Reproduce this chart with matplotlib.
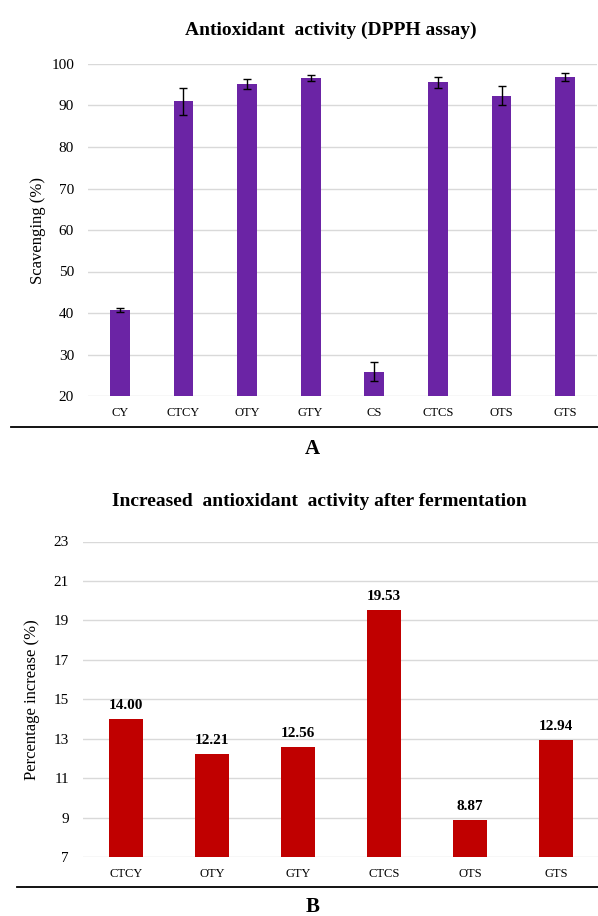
"""
Antioxidant activity (DPPH) and increase after fermentation
"""

# %% Imports
import matplotlib

matplotlib.use("Agg")
import matplotlib.pyplot as plt
from matplotlib.lines import Line2D

# %% Data
groups_a = ["CY", "CTCY", "OTY", "GTY", "CS", "CTCS", "OTS", "GTS"]
scavenging = [40.8, 91.0, 95.2, 96.6, 25.8, 95.6, 92.3, 96.9]
scavenging_err = [0.5, 3.3, 1.3, 0.8, 2.3, 1.3, 2.3, 1.0]

groups_b = ["CTCY", "OTY", "GTY", "CTCS", "OTS", "GTS"]
increase = [14.00, 12.21, 12.56, 19.53, 8.87, 12.94]

# %% Style
plt.rcParams.update(
    {
        "font.family": ["Liberation Serif", "DejaVu Serif"],
        "font.size": 11,
        "xtick.labelsize": 9,
        "ytick.labelsize": 11,
    }
)

W, H = 598, 916
PURPLE = "#6B24A5"
RED = "#C00000"
GRID = "#d9d9d9"


def _style_axis(ax):
    for s in ax.spines.values():
        s.set_visible(False)
    ax.grid(axis="y", color=GRID, lw=1)
    ax.set_axisbelow(True)
    ax.tick_params(axis="both", length=0)
    ax.tick_params(axis="y", pad=10)
    ax.tick_params(axis="x", pad=8)


def _box(x0, y0, x1, y1):
    # pixel box -> figure fraction [left, bottom, width, height]
    return [x0 / W, 1 - y1 / H, (x1 - x0) / W, (y1 - y0) / H]


# %% Figure
fig = plt.figure(figsize=(W / 100, H / 100), dpi=100)

# panel A
ax1 = fig.add_axes(_box(88, 64, 597, 396))
_style_axis(ax1)
ax1.bar(
    range(len(groups_a)),
    scavenging,
    width=0.31,
    color=PURPLE,
    yerr=scavenging_err,
    error_kw={"ecolor": "black", "elinewidth": 1, "capsize": 3, "capthick": 1},
    zorder=3,
)
ax1.set_xticks(range(len(groups_a)))
ax1.set_xticklabels(groups_a)
ax1.set_xlim(-0.5, len(groups_a) - 0.5)
ax1.set_ylim(20, 100)
ax1.set_yticks(range(20, 101, 10))
ax1.set_ylabel("Scavenging (%)", fontsize=12)
ax1.yaxis.set_label_coords(-0.083, 0.5)
fig.text(331 / W, 1 - 30 / H, "Antioxidant  activity (DPPH assay)", ha="center", va="center",
         fontsize=14, fontweight="bold")

# panel B
ax2 = fig.add_axes(_box(83, 541.5, 599, 857))
_style_axis(ax2)
bars = ax2.bar(range(len(groups_b)), increase, width=0.40, color=RED, zorder=3)
for b, v in zip(bars, increase):
    ax2.annotate(f"{v:.2f}", (b.get_x() + b.get_width() / 2, v), xytext=(0, 5),
                 textcoords="offset points", ha="center", va="bottom",
                 fontsize=11, fontweight="bold")
ax2.set_xticks(range(len(groups_b)))
ax2.set_xticklabels(groups_b)
ax2.set_xlim(-0.5, len(groups_b) - 0.5)
ax2.set_ylim(7, 23)
ax2.set_yticks(range(7, 24, 2))
ax2.set_ylabel("Percentage increase (%)", fontsize=12)
ax2.yaxis.set_label_coords(-0.083, 0.5)
fig.text(319 / W, 1 - 502 / H, "Increased  antioxidant  activity after fermentation", ha="center",
         va="center", fontsize=14, fontweight="bold")

# separators and panel letters
fig.add_artist(Line2D([11 / W, 1], [1 - 427 / H, 1 - 427 / H], color="black", lw=1.3))
fig.add_artist(Line2D([17 / W, 1], [1 - 887 / H, 1 - 887 / H], color="black", lw=1.3))
fig.text(312 / W, 1 - 449 / H, "A", ha="center", va="center", fontsize=15, fontweight="bold")
fig.text(313 / W, 1 - 907 / H, "B", ha="center", va="center", fontsize=15, fontweight="bold")

fig.savefig("out.png", dpi=100)
